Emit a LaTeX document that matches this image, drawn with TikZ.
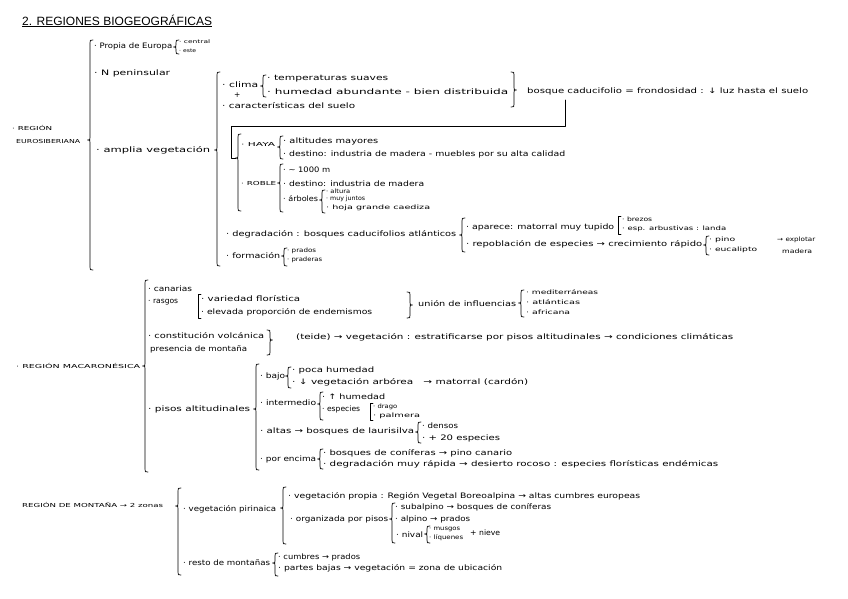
\documentclass[tikz,border=0pt]{standalone}
\usepackage{fontspec}
\usepackage{graphicx}
\setmainfont{DejaVu Sans}
\newfontfamily\titlef{Liberation Sans}
\newcommand\tx[6][]{\node[txt,#1] (#5) at (#2,#4) {\resizebox{\dimexpr#3pt-#2pt\relax}{\height}{#6}};}
% left brace: x, y1, y2, ytip
\newcommand\lbr[4]{\draw[brc] (#1+3,#2) .. controls (#1,#2) .. (#1,#2+3) -- (#1,#4-2.5) .. controls (#1,#4) .. (#1-2.5,#4) .. controls (#1,#4) .. (#1,#4+2.5) -- (#1,#3-3) .. controls (#1,#3) .. (#1+3,#3);}
% right brace
\newcommand\rbr[4]{\draw[brc] (#1-3,#2) .. controls (#1,#2) .. (#1,#2+3) -- (#1,#4-2.5) .. controls (#1,#4) .. (#1+2.5,#4) .. controls (#1,#4) .. (#1,#4+2.5) -- (#1,#3-3) .. controls (#1,#3) .. (#1-3,#3);}
% left bracket
\newcommand\lbk[3]{\draw[brc] (#1+3,#2) -- (#1,#2) -- (#1,#3) -- (#1+3,#3);}
\tikzset{
  txt/.style={anchor=west, inner sep=0pt, font=\fontsize{7.5}{8}\selectfont},
  sm/.style={font=\fontsize{6}{6.5}\selectfont},
  tiny/.style={font=\fontsize{5}{5.5}\selectfont},
  caps/.style={font=\fontsize{5.5}{6}\selectfont},
  brc/.style={draw=black, line width=0.7pt, line cap=round, line join=round}
}
\begin{document}
\begin{tikzpicture}[x=1pt,y=-1pt]
\useasboundingbox (0,0) rectangle (848,599);
\fill[white] (0,0) rectangle (848,599);
% title
\node[anchor=west, inner sep=0pt, font=\titlef\fontsize{12}{14}\selectfont] (title) at (22,20) {2. REGIONES BIOGEOGRÁFICAS};
\draw[line width=0.6pt] (title.south west) ++(0,0.5) -- ([yshift=-0.5pt]title.south east);

% ===== Región Eurosiberiana =====
\tx[caps]{12}{52}{128}{r1a}{· REGIÓN}
\tx[caps]{16}{80}{141}{r1b}{EUROSIBERIANA}
\lbr{90}{40}{270}{140}
\tx{94}{172}{46}{propia}{· Propia de Europa}
\lbr{176}{40}{54}{47}
\tx[tiny]{179}{210}{42}{central}{· central}
\tx[tiny]{179}{196}{51}{este}{· este}
\tx{94}{170}{73}{npen}{· N peninsular}
\tx{96}{210}{150}{amplia}{· amplia vegetación}
\lbr{217}{72}{266}{150}
\tx{222}{258}{85}{clima}{· clima}
\node[txt] (plus) at (234,95) {+};
\lbr{263}{75}{97}{86}
\tx{267}{388}{79}{temp}{· temperaturas suaves}
\tx{267}{508}{92}{hum}{· humedad abundante - bien distribuida}
\rbr{514}{72}{107}{90}
\tx{527}{808}{91}{bosque}{bosque caducifolio = frondosidad : ↓ luz hasta el suelo}
\tx{222}{355}{106}{suelo}{· características del suelo}
\coordinate (k1) at (565,100);
\coordinate (k2) at (565,126);
\coordinate (k3) at (231,126);
\coordinate (k4) at (231,158);
\coordinate (k5) at (236,158);
\draw[brc] (k1) -- (k2) -- (k3) -- (k4) -- (k5);
\lbr{238}{134}{211}{158}
\tx[caps]{241}{275}{144}{haya}{· HAYA}
\lbr{280}{136}{159}{147}
\tx{283}{378}{141}{alt}{· altitudes mayores}
\tx{283}{565}{154}{dest1}{· destino: industria de madera - muebles por su alta calidad}
\tx[caps]{241}{276}{183}{roble}{· ROBLE}
\lbr{280}{164}{212}{183}
\tx{283}{330}{170}{mil}{· \textasciitilde\ 1000 m}
\tx{283}{424}{184}{dest2}{· destino: industria de madera}
\tx{283}{318}{199}{arb}{· árboles}
\lbr{322}{190}{213}{200}
\tx[sm]{326}{350}{191}{altura}{· altura}
\tx[sm]{326}{365}{199}{juntos}{· muy juntos}
\tx[sm]{326}{430}{208}{hoja}{· hoja grande caediza}
\tx{226}{456}{234}{degr}{· degradación : bosques caducifolios atlánticos}
\lbr{462}{218}{252}{235}
\tx{466}{614}{227}{aparece}{· aparece: matorral muy tupido}
\lbk{618}{216}{234}
\tx[sm]{622}{652}{219}{brezos}{· brezos}
\tx[sm]{622}{726}{229}{esp}{· esp. arbustivas : landa}
\tx{466}{702}{244}{repo}{· repoblación de especies → crecimiento rápido}
\lbr{706}{236}{255}{245}
\tx[sm]{709}{735}{240}{pino}{· pino}
\tx[sm]{709}{757}{250}{euca}{· eucalipto}
\tx[sm]{777}{815}{240}{expl}{→ explotar}
\tx[sm]{782}{812}{251}{madera}{madera}
\tx{226}{280}{256}{form}{· formación}
\lbr{284}{248}{266}{256}
\tx[sm]{287}{316}{251}{prados}{· prados}
\tx[sm]{287}{322}{260}{praderas}{· praderas}

% ===== Región Macaronésica =====
\tx[caps]{16}{140}{366}{r2}{· REGIÓN MACARONÉSICA}
\lbr{145}{280}{472}{366}
\tx{148}{192}{289}{can}{· canarias}
\tx{148}{178}{302}{ras}{· rasgos}
\lbk{198}{294}{318}
\tx{201}{300}{299}{var}{· variedad florística}
\tx{201}{372}{312}{elev}{· elevada proporción de endemismos}
\rbr{410}{292}{318}{305}
\tx{418}{516}{304}{union}{unión de influencias}
\lbr{521}{290}{317}{303}
\tx[sm]{526}{598}{292}{med}{· mediterráneas}
\tx[sm]{526}{580}{302}{atl}{· atlánticas}
\tx[sm]{526}{570}{312}{afr}{· africana}
\tx{148}{264}{336}{const}{· constitución volcánica}
\tx{150}{247}{349}{pres}{presencia de montaña}
\rbr{270}{330}{355}{340}
\tx{296}{733}{337}{teide}{(teide) → vegetación : estratificarse por pisos altitudinales → condiciones climáticas}
\tx{148}{250}{409}{pisos}{· pisos altitudinales}
\lbr{256}{364}{470}{409}
\tx{260}{285}{376}{bajo}{· bajo}
\lbr{288}{367}{388}{376}
\tx{292}{374}{370}{poca}{· poca humedad}
\tx{292}{528}{382}{vegarb}{· ↓ vegetación arbórea \ \ → matorral (cardón)}
\tx{260}{316}{403}{inter}{· intermedio}
\lbr{320}{392}{420}{404}
\tx{322}{385}{397}{hum2}{· ↑ humedad}
\tx{322}{360}{409}{especies}{· especies}
\lbk{370}{403}{420}
\tx[sm]{373}{397}{407}{drago}{· drago}
\tx[sm]{373}{420}{416}{palm}{· palmera}
\tx{260}{414}{431}{altas}{· altas → bosques de laurisilva}
\lbr{418}{422}{443}{432}
\tx{422}{458}{426}{densos}{· densos}
\tx{422}{500}{438}{veinte}{· + 20 especies}
\tx{260}{316}{459}{encima}{· por encima}
\lbr{320}{449}{469}{459}
\tx{323}{512}{453}{conif}{· bosques de coníferas → pino canario}
\tx{323}{718}{464}{degr2}{· degradación muy rápida → desierto rocoso : especies florísticas endémicas}

% ===== Región de montaña =====
\tx[caps]{22}{163}{505}{r3}{REGIÓN DE MONTAÑA → 2 zonas}
\lbr{178}{488}{575}{506}
\tx{183}{276}{509}{vpir}{· vegetación pirinaica}
\lbr{283}{487}{544}{508}
\tx{288}{640}{496}{vprop}{· vegetación propia : Región Vegetal Boreoalpina → altas cumbres europeas}
\tx{290}{388}{519}{org}{· organizada por pisos}
\lbr{392}{503}{543}{519}
\tx{395}{551}{507}{sub}{· subalpino → bosques de coníferas}
\tx{395}{470}{519}{alp}{· alpino → prados}
\tx{396}{423}{535}{nival}{· nival}
\lbr{427}{526}{543}{534}
\tx[sm]{429}{460}{529}{musgos}{· musgos}
\tx[sm]{429}{463}{538}{liq}{· líquenes}
\tx{470}{500}{533}{nieve}{+ nieve}
\tx{183}{270}{563}{resto}{· resto de montañas}
\lbr{275}{553}{576}{563}
\tx{278}{360}{557}{cumb}{· cumbres → prados}
\tx{278}{502}{568}{partes}{· partes bajas → vegetación = zona de ubicación}
\end{tikzpicture}
\end{document}
